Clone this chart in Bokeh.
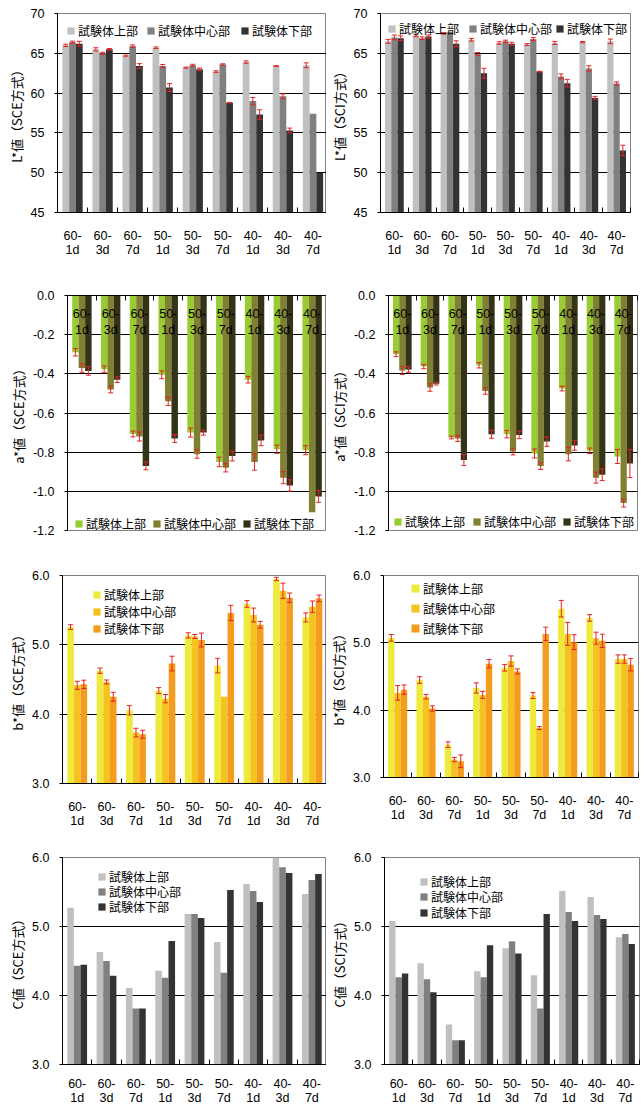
from bokeh.plotting import figure
from bokeh.layouts import column, row
from bokeh.models import Range1d, FixedTicker, Legend, LegendItem, PrintfTickFormatter
from bokeh.embed import file_html
from bokeh.resources import INLINE
from bokeh.core.properties import value

# ---------------- data ----------------
categories = ["60-1d", "60-3d", "60-7d", "50-1d", "50-3d", "50-7d", "40-1d", "40-3d", "40-7d"]
cat_line1 = ["60-", "60-", "60-", "50-", "50-", "50-", "40-", "40-", "40-"]
cat_line2 = ["1d", "3d", "7d", "1d", "3d", "7d", "1d", "3d", "7d"]
series_names = ["試験体上部", "試験体中心部", "試験体下部"]

L_sce_top = [66.0, 65.5, 64.7, 65.7, 63.2, 62.7, 63.9, 63.4, 63.5]
L_sce_mid = [66.4, 65.0, 65.9, 63.4, 63.5, 63.6, 59.0, 59.6, 57.4]
L_sce_bot = [66.2, 65.5, 63.4, 60.7, 63.0, 58.8, 57.3, 55.3, 50.0]
L_sce_err_top = [0.15, 0.2, 0.07, 0.1, 0.07, 0.1, 0.15, 0.05, 0.3]
L_sce_err_mid = [0.12, 0.13, 0.15, 0.2, 0.12, 0.08, 0.45, 0.3, 0.0]
L_sce_err_bot = [0.3, 0.1, 0.3, 0.5, 0.15, 0.03, 0.6, 0.3, 0.0]

L_sci_top = [66.5, 67.2, 67.5, 66.7, 66.3, 66.1, 66.3, 66.4, 66.5]
L_sci_mid = [67.0, 66.9, 67.7, 64.9, 66.5, 66.8, 62.1, 63.1, 61.2]
L_sci_bot = [66.9, 67.1, 66.2, 62.5, 66.2, 62.7, 61.25, 59.4, 52.8]
L_sci_err_top = [0.25, 0.12, 0.1, 0.17, 0.15, 0.12, 0.19, 0.08, 0.29]
L_sci_err_mid = [0.29, 0.17, 0.0, 0.2, 0.15, 0.19, 0.31, 0.33, 0.21]
L_sci_err_bot = [0.29, 0.2, 0.37, 0.62, 0.19, 0.04, 0.48, 0.19, 0.65]

a_sce_top = [-0.29, -0.377, -0.707, -0.405, -0.70, -0.85, -0.43, -0.785, -0.79]
a_sce_mid = [-0.37, -0.48, -0.72, -0.54, -0.81, -0.88, -0.85, -0.93, -1.107]
a_sce_bot = [-0.385, -0.43, -0.87, -0.73, -0.70, -0.82, -0.74, -0.97, -1.026]
a_sce_err_top = [0.019, 0.017, 0.015, 0.02, 0.023, 0.024, 0.017, 0.021, 0.023]
a_sce_err_mid = [0.022, 0.017, 0.023, 0.022, 0.021, 0.021, 0.042, 0.031, 0.0]
a_sce_err_bot = [0.022, 0.014, 0.02, 0.02, 0.013, 0.025, 0.027, 0.029, 0.03]

a_sci_top = [-0.30, -0.363, -0.725, -0.356, -0.708, -0.807, -0.475, -0.793, -0.822]
a_sci_mid = [-0.383, -0.47, -0.73, -0.488, -0.797, -0.87, -0.81, -0.93, -1.06]
a_sci_bot = [-0.378, -0.45, -0.84, -0.708, -0.712, -0.746, -0.766, -0.915, -0.858]
a_sci_err_top = [0.012, 0.011, 0.007, 0.014, 0.019, 0.023, 0.012, 0.014, 0.036]
a_sci_err_mid = [0.02, 0.019, 0.015, 0.016, 0.017, 0.018, 0.034, 0.028, 0.02]
a_sci_err_bot = [0.014, 0.007, 0.028, 0.021, 0.019, 0.024, 0.024, 0.03, 0.072]

b_sce_top = [5.256, 4.627, 4.056, 4.34, 5.136, 4.70, 5.59, 5.95, 5.395]
b_sce_mid = [4.416, 4.464, 3.734, 4.224, 5.12, 4.25, 5.43, 5.78, 5.55]
b_sce_bot = [4.43, 4.25, 3.71, 4.73, 5.07, 5.46, 5.29, 5.68, 5.67]
b_sce_err_top = [0.034, 0.038, 0.067, 0.043, 0.038, 0.106, 0.048, 0.024, 0.065]
b_sce_err_mid = [0.058, 0.029, 0.062, 0.06, 0.029, 0.0, 0.1, 0.11, 0.082]
b_sce_err_bot = [0.06, 0.065, 0.058, 0.106, 0.1, 0.11, 0.048, 0.067, 0.048]

b_sci_top = [5.074, 4.448, 3.488, 4.33, 4.63, 4.217, 5.507, 5.37, 4.759]
b_sci_mid = [4.256, 4.20, 3.266, 4.227, 4.73, 3.734, 5.133, 5.069, 4.759]
b_sci_bot = [4.305, 4.025, 3.24, 4.69, 4.576, 5.133, 5.01, 5.03, 4.675]
b_sci_err_top = [0.049, 0.049, 0.042, 0.076, 0.049, 0.044, 0.123, 0.049, 0.062]
b_sci_err_mid = [0.108, 0.034, 0.032, 0.052, 0.076, 0.022, 0.17, 0.089, 0.062]
b_sci_err_bot = [0.069, 0.039, 0.094, 0.062, 0.037, 0.1, 0.11, 0.099, 0.091]

C_sce_top = [5.27, 4.63, 4.11, 4.36, 5.18, 4.777, 5.615, 6.0, 5.47]
C_sce_mid = [4.43, 4.50, 3.81, 4.257, 5.18, 4.33, 5.514, 5.86, 5.673]
C_sce_bot = [4.445, 4.286, 3.81, 4.79, 5.124, 5.53, 5.355, 5.774, 5.76]

C_sci_top = [5.08, 4.468, 3.58, 4.35, 4.686, 4.294, 5.515, 5.428, 4.846]
C_sci_mid = [4.265, 4.236, 3.35, 4.265, 4.788, 3.81, 5.21, 5.166, 4.89]
C_sci_bot = [4.32, 4.047, 3.35, 4.73, 4.61, 5.18, 5.08, 5.108, 4.745]

L_ticks = [45, 50, 55, 60, 65, 70]
a_ticks = [0.0, -0.2, -0.4, -0.6, -0.8, -1.0, -1.2]
bC_ticks = [3.0, 4.0, 5.0, 6.0]

grey_colors = ["#c0c0c0", "#808080", "#333333"]
green_colors = ["#99cc33", "#808033", "#333318"]
yellow_colors = ["#eeea3c", "#f5c21f", "#f39c1e"]

NUM_FONT = "Liberation Sans"
JP_FONT = "Noto Sans CJK JP"
ERR_COLOR = "#e52222"
BW = 0.225
ITEM_H = 20


def make_panel(size, borders, x_end, yr, y_ticks, y_fmt, ylabel, colors, series, errors,
               leg_pos, gsize, axis_top=False, x_standoff=10):
    w, h = size
    bl, br, bt, bb = borders
    p = figure(width=w, height=h, output_backend="svg", toolbar_location=None,
               x_range=Range1d(0, x_end), y_range=Range1d(*yr),
               x_axis_location="above" if axis_top else "below",
               min_border_left=bl, min_border_right=br, min_border_top=bt, min_border_bottom=bb,
               background_fill_color="white", border_fill_color="white",
               outline_line_color="#808080")
    base = 0 if axis_top else yr[0]
    n = len(categories)
    renderers = []
    for k, (vals, col) in enumerate(zip(series, colors)):
        xs = [i + 0.5 + (k - 1) * BW for i in range(n)]
        r = p.vbar(x=xs, top=vals, bottom=base, width=BW, fill_color=col, line_color=None)
        renderers.append(r)
        if errors is not None:
            errs = errors[k]
            ex = [x for x, e in zip(xs, errs) if e > 0]
            lo = [v - e for v, e in zip(vals, errs) if e > 0]
            hi = [v + e for v, e in zip(vals, errs) if e > 0]
            p.segment(x0=ex, y0=lo, x1=ex, y1=hi, line_color=ERR_COLOR, line_width=1)
            p.scatter(x=ex + ex, y=lo + hi, marker="dash", size=5, line_color=ERR_COLOR,
                      line_width=1)

    # x axis
    xt = FixedTicker(ticks=[i + 0.5 for i in range(n)], minor_ticks=list(range(1, n + 1)))
    xa = p.xaxis[0]
    xa.ticker = xt
    xa.axis_line_color = "black"
    xa.major_tick_line_color = None
    xa.minor_tick_line_color = "black"
    xa.minor_tick_in = 5
    xa.minor_tick_out = 0
    xa.major_label_text_font = NUM_FONT
    xa.major_label_text_font_size = "12.5px"
    xa.major_label_text_color = "black"
    if axis_top:
        xa.major_label_overrides = {i + 0.5: "" for i in range(n)}
        xa.major_label_standoff = 0
        cx = [i + 0.5 for i in range(n)]
        span = yr[1] - yr[0]
        p.text(x=cx, y=[-0.078 * span] * n, text=cat_line1, text_font=value(NUM_FONT),
               text_font_size="12.5px", text_align="center", text_baseline="middle",
               text_color="black")
        p.text(x=cx, y=[-0.146 * span] * n, text=cat_line2, text_font=value(NUM_FONT),
               text_font_size="12.5px", text_align="center", text_baseline="middle",
               text_color="black")
    else:
        xa.major_label_overrides = {i + 0.5: a + "\n" + b
                                    for i, (a, b) in enumerate(zip(cat_line1, cat_line2))}
        xa.major_label_standoff = x_standoff
        xa.major_label_text_line_height = 1.0
    p.xgrid.visible = False

    # y axis
    ya = p.yaxis[0]
    ya.ticker = FixedTicker(ticks=y_ticks)
    ya.formatter = PrintfTickFormatter(format=y_fmt)
    ya.axis_line_color = "black"
    ya.major_tick_line_color = "black"
    ya.major_tick_in = 0
    ya.major_tick_out = 3
    ya.minor_tick_line_color = None
    ya.major_label_standoff = 10
    ya.major_label_text_font = NUM_FONT
    ya.major_label_text_font_size = "12.5px"
    ya.major_label_text_color = "black"
    ya.axis_label = ylabel
    ya.axis_label_text_font = JP_FONT
    ya.axis_label_text_font_size = "13px"
    ya.axis_label_text_font_style = "normal"
    ya.axis_label_text_color = "black"
    ya.axis_label_standoff = 2
    p.ygrid.grid_line_color = "black"
    p.ygrid.grid_line_width = 1

    for name, r, (lx, ly) in zip(series_names, renderers, leg_pos):
        legend = Legend(items=[LegendItem(label=name, renderers=[r])], location=(lx, ly),
                        orientation="vertical", padding=0, margin=0, spacing=0,
                        glyph_width=gsize, glyph_height=gsize,
                        label_standoff=3, label_height=ITEM_H, label_text_font=JP_FONT,
                        label_text_font_size="12px", label_text_color="black",
                        label_text_baseline="middle",
                        border_line_color=None, background_fill_alpha=0)
        p.add_layout(legend)
    return p


def leg_row(frame_left, frame_bottom, xs_abs, yc_abs):
    return [(x - frame_left, frame_bottom - yc_abs - ITEM_H // 2) for x in xs_abs]


def leg_col(frame_left, frame_bottom, x_abs, ycs_abs):
    return [(x_abs - frame_left, frame_bottom - yc - ITEM_H // 2) for yc in ycs_abs]


# row 1: y 0-275, row 2: 275-545, row 3: 545-838, row 4: 838-1108
p1 = make_panel((326, 275), (57, 0, 13, 63), 8.95, (45, 70), L_ticks, "%d", "L*値（SCE方式）",
                grey_colors, [L_sce_top, L_sce_mid, L_sce_bot],
                [L_sce_err_top, L_sce_err_mid, L_sce_err_bot],
                leg_row(57, 212, [66, 146, 240], 30), 9)
p2 = make_panel((318, 275), (51, 14, 13, 63), 9, (45, 70), L_ticks, "%d", "L*値（SCI方式）",
                grey_colors, [L_sci_top, L_sci_mid, L_sci_bot],
                [L_sci_err_top, L_sci_err_mid, L_sci_err_bot],
                leg_row(377, 212, [384, 465, 552], 28), 9)
p3 = make_panel((326, 270), (67, 0, 20, 15), 9.0, (-1.2, 0), a_ticks, "%.1f", "a*値（SCE方式）",
                green_colors, [a_sce_top, a_sce_mid, a_sce_bot],
                [a_sce_err_top, a_sce_err_mid, a_sce_err_bot],
                leg_row(67, 530, [74, 152, 242], 523), 9, axis_top=True)
p4 = make_panel((318, 270), (59, 7, 20, 15), 9, (-1.2, 0), a_ticks, "%.1f", "a*値（SCI方式）",
                green_colors, [a_sci_top, a_sci_mid, a_sci_bot],
                [a_sci_err_top, a_sci_err_mid, a_sci_err_bot],
                leg_row(385, 530, [390, 469, 559], 521), 9, axis_top=True)
p5 = make_panel((326, 293), (62, 0, 30, 55), 8.98, (3, 6), bC_ticks, "%.1f", "b*値（SCE方式）",
                yellow_colors, [b_sce_top, b_sce_mid, b_sce_bot],
                [b_sce_err_top, b_sce_err_mid, b_sce_err_bot],
                leg_col(62, 783, 92, [594, 611, 628]), 9, x_standoff=10)
p6 = make_panel((318, 287), (54, 6, 30, 55), 9, (3, 6), bC_ticks, "%.1f", "b*値（SCI方式）",
                yellow_colors, [b_sci_top, b_sci_mid, b_sci_bot],
                [b_sci_err_top, b_sci_err_mid, b_sci_err_bot],
                leg_col(380, 777, 407, [588, 608, 628]), 10, x_standoff=10)
p7 = make_panel((326, 270), (62, 0, 19, 44), 9.0, (3, 6), bC_ticks, "%.1f", "C値（SCE方式）",
                grey_colors, [C_sce_top, C_sce_mid, C_sce_bot], None,
                leg_col(62, 1064, 97, [876, 891, 906]), 9, x_standoff=6)
p8 = make_panel((318, 270), (58, 5, 19, 44), 9, (3, 6), bC_ticks, "%.1f", "C値（SCI方式）",
                grey_colors, [C_sci_top, C_sci_mid, C_sci_bot], None,
                leg_col(384, 1064, 419, [881, 896, 912]), 9, x_standoff=6)

layout = column(row(p1, p2, spacing=0), row(p3, p4, spacing=0),
                row(p5, p6, spacing=0), row(p7, p8, spacing=0), spacing=0)

open("out.html", "w").write(file_html(layout, INLINE))
